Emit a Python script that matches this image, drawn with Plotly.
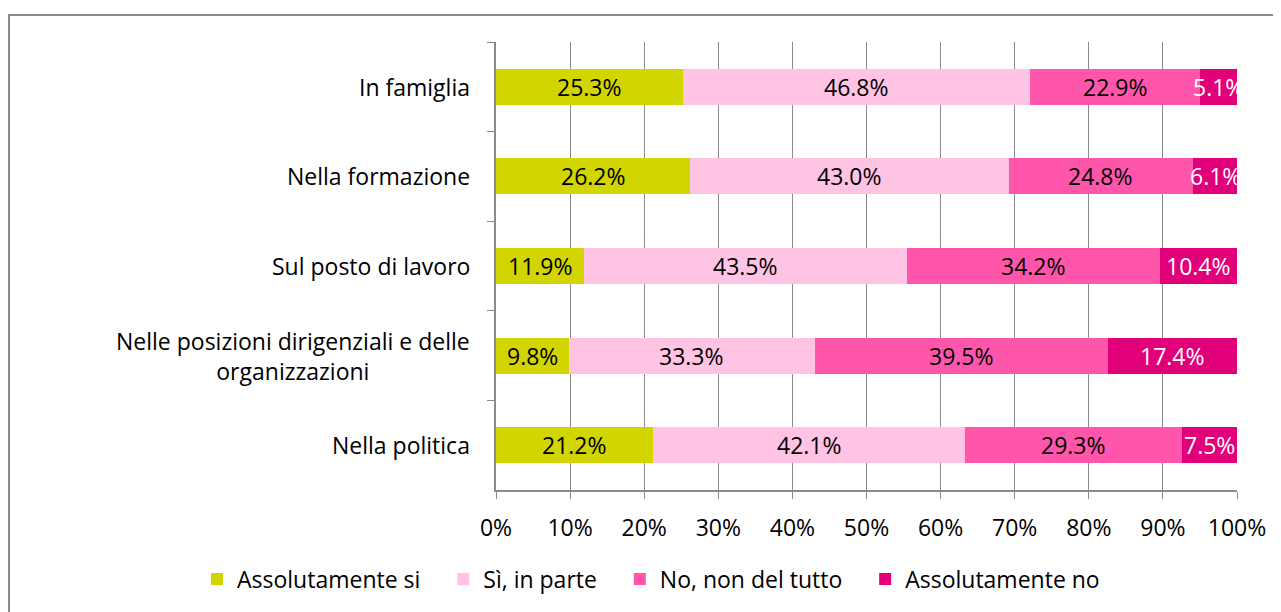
import plotly.graph_objects as go

categories = ["In famiglia", "Nella formazione", "Sul posto di lavoro",
              "Nelle posizioni dirigenziali e delle<br>organizzazioni", "Nella politica"]
series_names = ["Assolutamente si", "Sì, in parte", "No, non del tutto", "Assolutamente no"]
assolutamente_si = [25.3, 26.2, 11.9, 9.8, 21.2]
si_in_parte = [46.8, 43.0, 43.5, 33.3, 42.1]
no_non_del_tutto = [22.9, 24.8, 34.2, 39.5, 29.3]
assolutamente_no = [5.1, 6.1, 10.4, 17.4, 7.5]
x_ticks = [0, 10, 20, 30, 40, 50, 60, 70, 80, 90, 100]

colors = ["#D2D500", "#FFC4E4", "#FF56AC", "#E2007A"]
text_colors = ["black", "black", "black", "white"]
FONT = "Open Sans"
FS = 23
PAD = "\u00a0" * 3

fig = go.Figure()
all_series = [assolutamente_si, si_in_parte, no_non_del_tutto, assolutamente_no]
cum = [0.0] * len(categories)
for k, (name, vals, c, tc) in enumerate(zip(series_names, all_series, colors, text_colors)):
    fig.add_trace(go.Bar(
        y=categories, x=vals, name=name + (PAD if k < len(series_names) - 1 else ""),
        orientation="h",
        marker=dict(color=c, line=dict(width=0)),
        hoverinfo="skip",
    ))
    for i, (cat, v) in enumerate(zip(categories, vals)):
        fig.add_annotation(x=cum[i] + v / 2, y=cat, xref="x", yref="y",
                           text=f"{v:.1f}%", showarrow=False,
                           font=dict(family=FONT, size=FS, color=tc))
        cum[i] += v

# category labels as centered annotations
for cat in categories:
    fig.add_annotation(x=0, y=cat, xref="paper", yref="y", text=cat,
                       showarrow=False, xanchor="right", align="center",
                       xshift=-24, font=dict(family=FONT, size=FS, color="black"))

L, T, W, H = 488, 34, 741, 448
fig.add_shape(type="rect", xref="paper", yref="paper",
              x0=(1 - L) / W, x1=2, y0=-2, y1=(H + T - 7) / H,
              line=dict(color="#8a8a8a", width=2), fillcolor="rgba(0,0,0,0)", layer="below")

fig.update_layout(
    barmode="stack", bargap=0.6,
    width=1273, height=604,
    margin=dict(l=L, r=1273 - L - W, t=T, b=604 - T - H, autoexpand=False),
    paper_bgcolor="white", plot_bgcolor="white",
    font=dict(family=FONT, size=FS, color="black"),
    legend=dict(orientation="h", x=(197 - 496) / W, xanchor="left",
                y=(490 - 579) / H, yanchor="middle",
                font=dict(family=FONT, size=FS), itemwidth=30,
                traceorder="normal", itemclick=False),
    showlegend=True,
    xaxis=dict(range=[0, 100], tickvals=x_ticks, ticktext=[f"{t}%" for t in x_ticks],
               showgrid=True, gridcolor="#8a8a8a", gridwidth=1,
               showline=True, linecolor="#8a8a8a", linewidth=2,
               ticks="outside", ticklen=7, tickcolor="#8a8a8a", tickwidth=1,
               ticklabelstandoff=9,
               zeroline=False, tickfont=dict(family=FONT, size=FS)),
    yaxis=dict(categoryorder="array", categoryarray=categories, autorange="reversed",
               showticklabels=False, tickson="boundaries", ticks="outside", ticklen=7,
               tickcolor="#8a8a8a", showline=True, linecolor="#8a8a8a", linewidth=2,
               showgrid=False, zeroline=False),
)

fig.write_html("out.html")
